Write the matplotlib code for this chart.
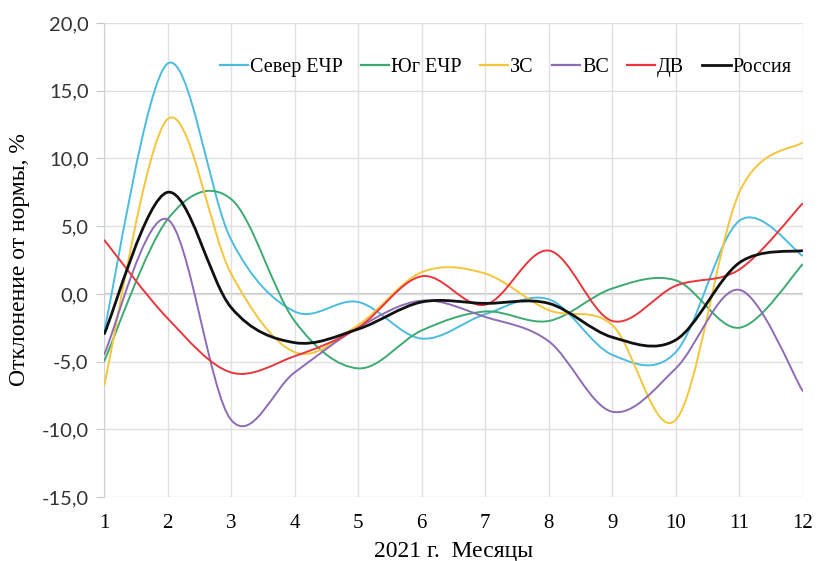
import matplotlib
matplotlib.use('Agg')

import numpy as np
import matplotlib.pyplot as plt
from matplotlib.path import Path
from matplotlib.patches import PathPatch
from matplotlib.lines import Line2D

months = [1, 2, 3, 4, 5, 6, 7, 8, 9, 10, 11, 12]

sever = [-2.8, 17.0, 4.0, -1.3, -0.6, -3.3, -1.5, -0.4, -4.5, -4.3, 5.4, 2.8]
yug = [-5.0, 5.5, 7.0, -2.0, -5.5, -2.7, -1.3, -2.0, 0.4, 1.0, -2.5, 2.2]
zs = [-6.8, 12.9, 1.5, -4.3, -2.3, 1.6, 1.5, -1.2, -2.3, -9.3, 7.5, 11.2]
vs = [-4.5, 5.5, -9.3, -5.8, -2.5, -0.5, -1.7, -3.5, -8.7, -5.5, 0.3, -7.2]
dv = [4.0, -1.8, -5.8, -4.6, -2.5, 1.3, -0.8, 3.2, -2.0, 0.6, 1.8, 6.7]
russia = [-3.0, 7.5, -1.0, -3.6, -2.6, -0.6, -0.7, -0.7, -3.2, -3.4, 2.3, 3.2]

names = ['Север ЕЧР', 'Юг ЕЧР', 'ЗС', 'ВС', 'ДВ', 'Россия']
colors = ['#4BBCE0', '#3DAA72', '#F5C53A', '#8F6BB5', '#E8363C', '#111111']
series = [sever, yug, zs, vs, dv, russia]


def smooth_path(x, y):
    # сглаженная линия как в Excel (кривые Безье, Catmull-Rom)
    pts = np.column_stack([x, y]).astype(float)
    verts = [pts[0]]
    codes = [Path.MOVETO]
    n = len(pts)
    for i in range(n - 1):
        p0 = pts[i - 1] if i > 0 else pts[i]
        p1 = pts[i]
        p2 = pts[i + 1]
        p3 = pts[i + 2] if i + 2 < n else pts[i + 1]
        c1 = p1 + (p2 - p0) / 6.0
        c2 = p2 - (p3 - p1) / 6.0
        verts += [c1, c2, p2]
        codes += [Path.CURVE4] * 3
    return Path(verts, codes)


fig = plt.figure(figsize=(8.32, 5.61), dpi=100)
ax = fig.add_axes([0.125, 0.114, 0.84, 0.845])

for vals, c, name in zip(series, colors, names):
    lw = 2.0 if name == 'Россия' else 1.4
    patch = PathPatch(smooth_path(months, vals), facecolor='none', edgecolor=c, lw=lw, zorder=3)
    ax.add_patch(patch)

ax.set_xlim(1, 12)
ax.set_ylim(-15, 20)
ax.set_xticks(months)
yt = np.arange(-15, 21, 5)
ax.set_yticks(yt)
ax.set_yticklabels([f'{v:.1f}'.replace('.', ',') for v in yt],
                   fontfamily='Lato', fontsize=14.5, color='#333333')
ax.set_xticklabels([str(m) for m in months], fontfamily='Liberation Serif', fontsize=15)
ax.tick_params(axis='x', length=0, pad=12)
ax.tick_params(axis='y', length=6, color='#C8C8C8', pad=5)
ax.grid(True, color='#E0E0E0', lw=1)
ax.axhline(0, color='#BDBDBD', lw=1.3, zorder=1)
for s in ax.spines.values():
    s.set_visible(False)
ax.spines['left'].set_visible(True)
ax.spines['left'].set_color('#D0D0D0')

ax.set_xlabel('2021 г.  Месяцы', fontfamily='Liberation Serif', fontsize=17, labelpad=6)
ax.set_ylabel('Отклонение от нормы, %', fontfamily='Liberation Serif', fontsize=17, labelpad=8)

handles = [Line2D([], [], color=c, lw=1.6 if n != 'Россия' else 2.0) for c, n in zip(colors, names)]
leg = ax.legend(handles, names, loc='upper center', bbox_to_anchor=(0.575, 0.965), ncol=6,
                frameon=False, handlelength=1.4, handletextpad=0.1, columnspacing=0.9,
                prop={'family': 'Liberation Serif', 'size': 14.5})

fig.savefig('out.png', dpi=100)
